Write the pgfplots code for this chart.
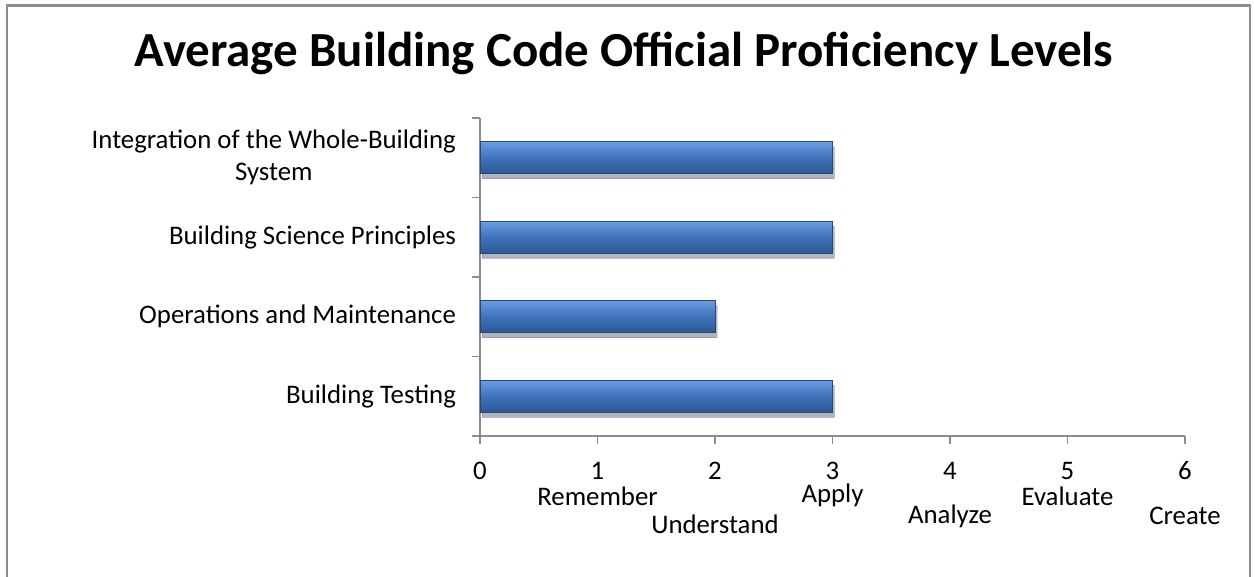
\documentclass[border=0pt]{standalone}
\usepackage{pgfplots}
\pgfplotsset{compat=1.18}
\usepackage{fontspec}
\setmainfont{Carlito}
\usetikzlibrary{shadows}
\definecolor{axgray}{HTML}{8C8C8C}
\definecolor{bartop}{HTML}{6A9DE0}
\definecolor{barmid}{HTML}{3E73BA}
\definecolor{barbot}{HTML}{2C5892}
\definecolor{baredge}{HTML}{27497A}
\tikzset{lbl/.style={font=\fontsize{13.4}{16}\selectfont, inner sep=0pt}}
\pgfplotsset{barsty/.style={top color=bartop, bottom color=barbot, middle color=barmid,
  draw=baredge, line width=0.4pt, bar shift=0pt,
  drop shadow={opacity=0.2, shadow xshift=1pt, shadow yshift=-2.4pt, fill=black}}}

\begin{document}
\begin{tikzpicture}
\path[use as bounding box] (0,0) rectangle (627.5pt,288.5pt);
% chart frame as thin filled strips (bottom edge lies below the picture)
\fill[axgray] (2.9pt,0pt) rectangle (4.1pt,286.4pt);
\fill[axgray] (2.9pt,285.2pt) rectangle (625.6pt,286.4pt);
\fill[axgray] (624.4pt,0pt) rectangle (625.6pt,286.4pt);
\node[font=\fontsize{24.5}{28}\selectfont\bfseries] at (312pt,262pt) {Average Building Code Official Proficiency Levels};
\begin{axis}[
  at={(240pt,70.5pt)}, anchor=south west,
  scale only axis, width=352.5pt, height=159pt,
  xbar, bar width=16pt,
  xmin=0, xmax=6, ymin=0.5, ymax=4.5,
  axis lines*=left,
  axis line style={axgray, line width=0.9pt},
  clip=false,
  xtick={0,...,6},
  x tick style={axgray, line width=0.9pt},
  tick align=outside,
  major tick length=4pt,
  ytick={1,2,3,4},
  y tick style={draw=none},
  yticklabels={Building Testing, Operations and Maintenance, Building Science Principles, {Integration of the Whole-Building\\System}},
  extra y ticks={0.5,1.5,2.5,3.5,4.5},
  extra y tick labels={},
  extra y tick style={y tick style={draw=axgray, line width=0.9pt}, major tick length=4pt},
  tick label style={font=\fontsize{13.4}{16}\selectfont},
  /pgf/number format/assume math mode=true,
  yticklabel style={align=center, xshift=-4.5pt},
  xticklabel style={anchor=center, yshift=-13.5pt},
]
\addplot[barsty] coordinates {(3,1)};
\addplot[barsty] coordinates {(2,2)};
\addplot[barsty] coordinates {(3,3)};
\addplot[barsty] coordinates {(3,4)};
\node[lbl] at (axis cs:1,0.5) [yshift=-30pt] {Remember};
\node[lbl] at (axis cs:2,0.5) [yshift=-44pt] {Understand};
\node[lbl] at (axis cs:3,0.5) [yshift=-29.8pt] {Apply};
\node[lbl] at (axis cs:4,0.5) [yshift=-40pt] {Analyze};
\node[lbl] at (axis cs:5,0.5) [yshift=-30pt] {Evaluate};
\node[lbl] at (axis cs:6,0.5) [yshift=-40pt] {Create};
\end{axis}
\end{tikzpicture}
\end{document}
